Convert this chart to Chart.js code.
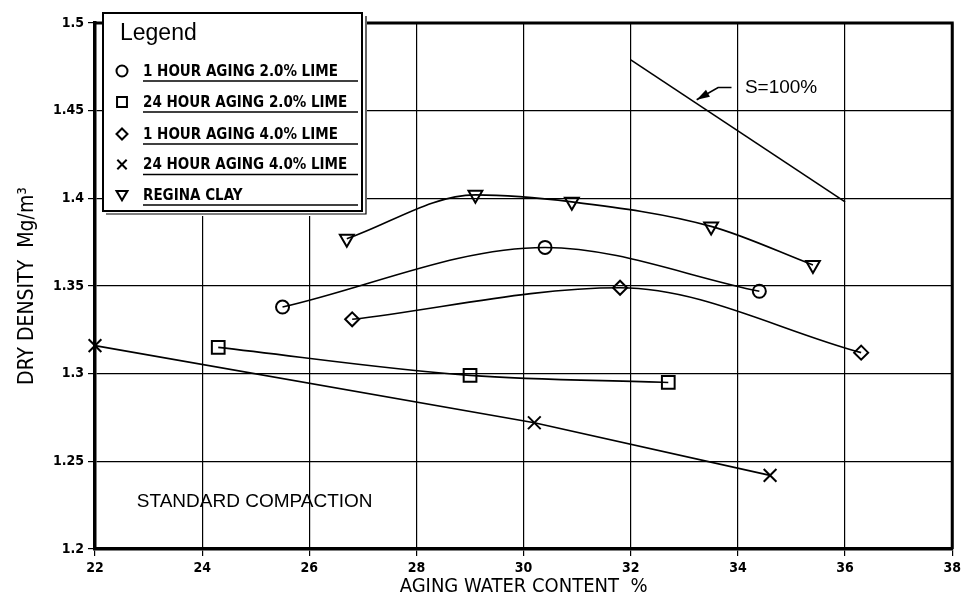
<!DOCTYPE html>
<html>
<head>
<meta charset="utf-8">
<script src="https://cdn.jsdelivr.net/npm/chart.js@4/dist/chart.umd.min.js"></script>
<style>
  html, body { margin: 0; padding: 0; background: #fff; }
  #wrap { width: 965px; height: 600px; }
</style>
</head>
<body>
<div id="wrap"><canvas id="chart" width="965" height="600"></canvas></div>
<script>
// Compaction test results: aging water content (%) vs dry density (Mg/m^3)
const waterTicks = [22, 24, 26, 28, 30, 32, 34, 36, 38];
const densityTicks = [1.2, 1.25, 1.3, 1.35, 1.4, 1.45, 1.5];

const hour1Lime2Water = [25.5, 30.4, 34.4];
const hour1Lime2Density = [1.338, 1.372, 1.347];

const hour24Lime2Water = [24.3, 29.0, 32.7];
const hour24Lime2Density = [1.315, 1.299, 1.295];

const hour1Lime4Water = [26.8, 31.8, 36.3];
const hour1Lime4Density = [1.331, 1.349, 1.312];

const hour24Lime4Water = [22.0, 30.2, 34.6];
const hour24Lime4Density = [1.316, 1.272, 1.242];

const reginaWater = [26.7, 29.1, 30.9, 33.5, 35.4];
const reginaDensity = [1.377, 1.402, 1.398, 1.384, 1.362];

// zero air voids (S = 100%) line
const saturationWater = [32, 36];
const saturationDensity = [1.479, 1.398];

const seriesNames = [
  '1 HOUR AGING 2.0% LIME',
  '24 HOUR AGING 2.0% LIME',
  '1 HOUR AGING 4.0% LIME',
  '24 HOUR AGING 4.0% LIME',
  'REGINA CLAY'
];

const NARROW = "'Liberation Sans Narrow', 'DejaVu Sans Condensed', 'Arial Narrow', sans-serif";
const PLAIN = "'Liberation Sans', Arial, sans-serif";

function pts(xs, ys) { return xs.map((x, i) => ({ x: x, y: ys[i] })); }

const markers = [
  { style: 'circle', rotation: 0, radius: 6.5 },
  { style: 'rect', rotation: 0, radius: 9 },
  { style: 'rectRot', rotation: 0, radius: 7 },
  { style: 'crossRot', rotation: 0, radius: 9 },
  { style: 'triangle', rotation: 180, radius: 8 }
];

function series(label, xs, ys, idx, interp) {
  return {
    label: label,
    data: pts(xs, ys),
    showLine: true,
    clip: false,
    borderColor: '#000',
    backgroundColor: 'rgba(255,255,255,0)',
    borderWidth: 1.6,
    pointStyle: markers[idx].style,
    rotation: markers[idx].rotation,
    pointRadius: markers[idx].radius,
    pointBorderWidth: 2,
    pointBorderColor: '#000',
    pointBackgroundColor: 'rgba(255,255,255,0)',
    cubicInterpolationMode: interp ? 'monotone' : 'default',
    tension: 0
  };
}

function drawMarker(ctx, style, cx, cy, r) {
  ctx.save();
  ctx.strokeStyle = '#000';
  ctx.lineWidth = 2;
  ctx.beginPath();
  if (style === 'circle') {
    ctx.arc(cx, cy, r, 0, Math.PI * 2);
  } else if (style === 'rect') {
    const s = r * 0.9;
    ctx.rect(cx - s, cy - s, 2 * s, 2 * s);
  } else if (style === 'rectRot') {
    ctx.moveTo(cx, cy - r); ctx.lineTo(cx + r, cy); ctx.lineTo(cx, cy + r); ctx.lineTo(cx - r, cy); ctx.closePath();
  } else if (style === 'crossRot') {
    const s = r * 0.85;
    ctx.moveTo(cx - s, cy - s); ctx.lineTo(cx + s, cy + s);
    ctx.moveTo(cx + s, cy - s); ctx.lineTo(cx - s, cy + s);
  } else if (style === 'triangle') {
    ctx.moveTo(cx - r, cy - r * 0.75); ctx.lineTo(cx + r, cy - r * 0.75); ctx.lineTo(cx, cy + r * 0.95); ctx.closePath();
  }
  ctx.stroke();
  ctx.restore();
}

// frame, arrow note and caption drawn in data coordinates
const notesPlugin = {
  id: 'notes',
  afterDatasetsDraw(chart) {
    const { ctx, chartArea: a, scales: { x, y } } = chart;
    ctx.save();
    // top and right frame edges
    ctx.strokeStyle = '#000';
    ctx.lineWidth = 3;
    ctx.beginPath();
    ctx.moveTo(a.left, a.top); ctx.lineTo(a.right, a.top); ctx.lineTo(a.right, a.bottom);
    ctx.stroke();

    // leader arrow pointing at the saturation line
    const p0 = [x.getPixelForValue(33.88), y.getPixelForValue(1.4632)];
    const p1 = [x.getPixelForValue(33.63), y.getPixelForValue(1.4632)];
    const p2 = [x.getPixelForValue(33.23), y.getPixelForValue(1.4562)];
    ctx.lineWidth = 1.6;
    ctx.beginPath();
    ctx.moveTo(p0[0], p0[1]); ctx.lineTo(p1[0], p1[1]); ctx.lineTo(p2[0], p2[1]);
    ctx.stroke();
    const ang = Math.atan2(p2[1] - p1[1], p2[0] - p1[0]);
    const L = 13, W = 4;
    ctx.fillStyle = '#000';
    ctx.beginPath();
    ctx.moveTo(p2[0], p2[1]);
    ctx.lineTo(p2[0] - L * Math.cos(ang) - W * Math.sin(ang), p2[1] - L * Math.sin(ang) + W * Math.cos(ang));
    ctx.lineTo(p2[0] - L * Math.cos(ang) + W * Math.sin(ang), p2[1] - L * Math.sin(ang) - W * Math.cos(ang));
    ctx.closePath();
    ctx.fill();

    ctx.fillStyle = '#000';
    ctx.textBaseline = 'middle';
    ctx.textAlign = 'left';
    ctx.font = '19px ' + PLAIN;
    ctx.fillText('S=100%', x.getPixelForValue(34.13), y.getPixelForValue(1.4632));

    ctx.font = '19px ' + PLAIN;
    ctx.fillText('STANDARD COMPACTION', x.getPixelForValue(22.78), y.getPixelForValue(1.2267));
    ctx.restore();
  },
  afterDraw(chart) {
    const { ctx } = chart;
    // boxed legend in the upper left corner
    const L = 103, T = 13, R = 362, B = 211;
    ctx.save();
    ctx.fillStyle = '#fff';
    ctx.fillRect(L, T, R - L + 5, B - T + 5);
    ctx.strokeStyle = '#000';
    ctx.lineWidth = 2;
    ctx.strokeRect(L, T, R - L, B - T);
    ctx.lineWidth = 1.2;
    ctx.beginPath();
    ctx.moveTo(L + 3, B + 3); ctx.lineTo(R + 4, B + 3); ctx.lineTo(R + 4, T + 3);
    ctx.stroke();

    ctx.fillStyle = '#000';
    ctx.textBaseline = 'middle';
    ctx.textAlign = 'left';
    ctx.font = '23px ' + PLAIN;
    ctx.fillText('Legend', 120, 34);

    const rows = [71, 102, 134, 164.5, 195];
    ctx.font = 'bold 15px ' + NARROW;
    seriesNames.forEach((name, i) => {
      drawMarker(ctx, markers[i].style, 122, rows[i], 5.5);
      ctx.fillText(name, 143, rows[i] + 1);
      ctx.lineWidth = 1.5;
      ctx.beginPath();
      ctx.moveTo(143, rows[i] + 10); ctx.lineTo(358, rows[i] + 10);
      ctx.stroke();
    });
    ctx.restore();
  }
};

const datasets = [
  series(seriesNames[0], hour1Lime2Water, hour1Lime2Density, 0, true),
  series(seriesNames[1], hour24Lime2Water, hour24Lime2Density, 1, true),
  series(seriesNames[2], hour1Lime4Water, hour1Lime4Density, 2, true),
  series(seriesNames[3], hour24Lime4Water, hour24Lime4Density, 3, false),
  series(seriesNames[4], reginaWater, reginaDensity, 4, true),
  {
    label: 'S=100%',
    data: pts(saturationWater, saturationDensity),
    showLine: true,
    borderColor: '#000',
    borderWidth: 1.6,
    pointRadius: 0,
    tension: 0
  }
];

new Chart(document.getElementById('chart'), {
  type: 'scatter',
  data: { datasets: datasets },
  options: {
    responsive: false,
    devicePixelRatio: 1,
    animation: false,
    layout: { padding: { left: 0, right: 12, top: 23, bottom: 0 } },
    plugins: {
      legend: { display: false },
      tooltip: { enabled: false }
    },
    scales: {
      x: {
        type: 'linear',
        min: waterTicks[0],
        max: waterTicks[waterTicks.length - 1],
        afterBuildTicks: s => { s.ticks = waterTicks.map(v => ({ value: v })); },
        afterFit: s => { s.height = 51; },
        ticks: {
          color: '#000',
          font: { family: NARROW, size: 14, weight: 'bold' },
          padding: 4,
          maxRotation: 0,
          callback: v => String(v)
        },
        grid: { color: '#000', lineWidth: 1.2, tickLength: 7, tickColor: '#000' },
        border: { display: true, color: '#000', width: 3.5 },
        title: {
          display: true,
          text: 'AGING WATER CONTENT  %',
          color: '#000',
          font: { family: NARROW, size: 20, weight: 'normal' },
          padding: { top: 0, bottom: 1 }
        }
      },
      y: {
        type: 'linear',
        min: densityTicks[0],
        max: densityTicks[densityTicks.length - 1],
        afterBuildTicks: s => { s.ticks = densityTicks.map(v => ({ value: v })); },
        afterFit: s => { s.width = 95; },
        ticks: {
          color: '#000',
          font: { family: NARROW, size: 14, weight: 'bold' },
          padding: 4,
          callback: v => String(parseFloat(Number(v).toFixed(2)))
        },
        grid: { color: '#000', lineWidth: 1.2, tickLength: 7, tickColor: '#000' },
        border: { display: true, color: '#000', width: 3.5 },
        title: {
          display: true,
          text: 'DRY DENSITY  Mg/m³',
          color: '#000',
          font: { family: NARROW, size: 21, weight: 'normal' },
          padding: { top: 15, bottom: 0 }
        }
      }
    }
  },
  plugins: [notesPlugin]
});
</script>
</body>
</html>
